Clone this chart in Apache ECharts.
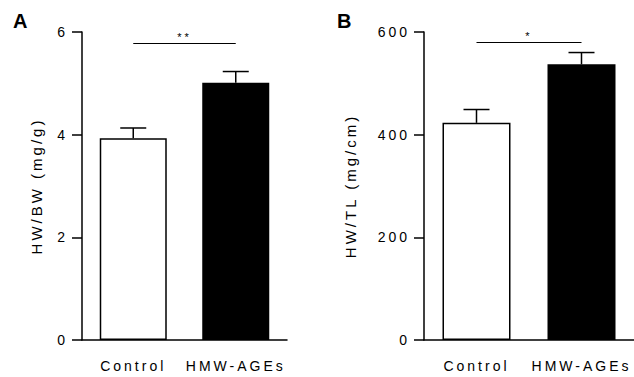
<!DOCTYPE html>
<html>
<head>
<meta charset="utf-8">
<script src="https://cdn.jsdelivr.net/npm/echarts@6/dist/echarts.min.js"></script>
<style>
  html, body { margin: 0; padding: 0; background: #fff; }
  #chart { width: 634px; height: 377px; }
  /* wide letter spacing like the original figure */
  #chart text { letter-spacing: 3px; }
</style>
</head>
<body>
<div id="chart"></div>
<script>
// categories
var groups = ["Control", "HMW-AGEs"];
// panel A: heart weight / body weight
var hwbwMean = [3.93, 5.01];
var hwbwErr = [0.2, 0.22];
var hwbwSig = 5.78;
// panel B: heart weight / tibia length
var hwtlMean = [423, 537];
var hwtlErr = [26, 23];
var hwtlSig = 580;
// tick settings
var ticksA = { max: 6, interval: 2 };
var ticksB = { max: 600, interval: 200 };

var fontFam = "'Liberation Sans', Arial, sans-serif";
var barFills = ["#ffffff", "#000000"];

var myChart = echarts.init(document.getElementById("chart"), null, { renderer: "svg" });

// error bar (upper only) drawn by custom series
function errorBar(params, api) {
  var xv = api.value(0);
  var base = api.coord([xv, api.value(1)]);
  var top = api.coord([xv, api.value(1) + api.value(2)]);
  var half = 13;
  return {
    type: "group",
    children: [
      { type: "line", shape: { x1: base[0], y1: base[1], x2: top[0], y2: top[1] },
        style: { stroke: "#000", lineWidth: 1.5 } },
      { type: "line", shape: { x1: top[0] - half, y1: top[1], x2: top[0] + half, y2: top[1] },
        style: { stroke: "#000", lineWidth: 1.5 } }
    ]
  };
}

function barData(vals) {
  return vals.map(function (v, i) {
    return { value: v, itemStyle: { color: barFills[i] } };
  });
}
function errData(mean, err) {
  return mean.map(function (m, i) { return [i, m, err[i]]; });
}

var axisLineStyle = { show: true, lineStyle: { color: "#000", width: 1.5 } };

function xAx(idx) {
  return {
    type: "category", gridIndex: idx, data: groups,
    axisLine: axisLineStyle, axisTick: { show: false },
    axisLabel: { color: "#000", fontSize: 14, fontFamily: fontFam, margin: 19 }
  };
}
function yAx(idx, t, name, gap) {
  return {
    type: "value", gridIndex: idx, min: 0, max: t.max, interval: t.interval,
    name: name, nameLocation: "middle", nameGap: gap,
    nameTextStyle: { color: "#000", fontSize: 15, fontFamily: fontFam },
    axisLine: axisLineStyle,
    axisTick: { show: true, length: 10, lineStyle: { color: "#000", width: 1.5 } },
    axisLabel: { color: "#000", fontSize: 14, fontFamily: fontFam, margin: 14 },
    splitLine: { show: false }
  };
}

function sigLine(level, stars) {
  return {
    silent: true, symbol: "none",
    lineStyle: { color: "#000", width: 1.2, type: "solid" },
    label: { show: true, position: "insideMiddleTop", formatter: stars,
      color: "#000", fontSize: 11, fontFamily: fontFam, distance: 1 },
    data: [[{ coord: [groups[0], level] }, { coord: [groups[1], level] }]]
  };
}

myChart.setOption({
  animation: false,
  title: [
    { text: "A", left: 8, top: 6, textStyle: { fontSize: 20, fontWeight: "bold", color: "#000", fontFamily: fontFam } },
    { text: "B", left: 332, top: 6, textStyle: { fontSize: 20, fontWeight: "bold", color: "#000", fontFamily: fontFam } }
  ],
  grid: [
    { left: 82, top: 32, width: 205, height: 308 },
    { left: 424, top: 32, width: 210, height: 308 }
  ],
  xAxis: [xAx(0), xAx(1)],
  yAxis: [yAx(0, ticksA, "HW/BW (mg/g)", 38), yAx(1, ticksB, "HW/TL (mg/cm)", 66)],
  series: [
    {
      type: "bar", xAxisIndex: 0, yAxisIndex: 0, barWidth: 67,
      itemStyle: { borderColor: "#000", borderWidth: 1.5 },
      data: barData(hwbwMean),
      markLine: sigLine(hwbwSig, "**")
    },
    {
      type: "custom", xAxisIndex: 0, yAxisIndex: 0, renderItem: errorBar,
      encode: { x: 0, y: 1 }, z: 3,
      data: errData(hwbwMean, hwbwErr)
    },
    {
      type: "bar", xAxisIndex: 1, yAxisIndex: 1, barWidth: 68,
      itemStyle: { borderColor: "#000", borderWidth: 1.5 },
      data: barData(hwtlMean),
      markLine: sigLine(hwtlSig, "*")
    },
    {
      type: "custom", xAxisIndex: 1, yAxisIndex: 1, renderItem: errorBar,
      encode: { x: 0, y: 1 }, z: 3,
      data: errData(hwtlMean, hwtlErr)
    }
  ]
});
window.addEventListener("resize", function () { myChart.resize(); });
</script>
</body>
</html>
